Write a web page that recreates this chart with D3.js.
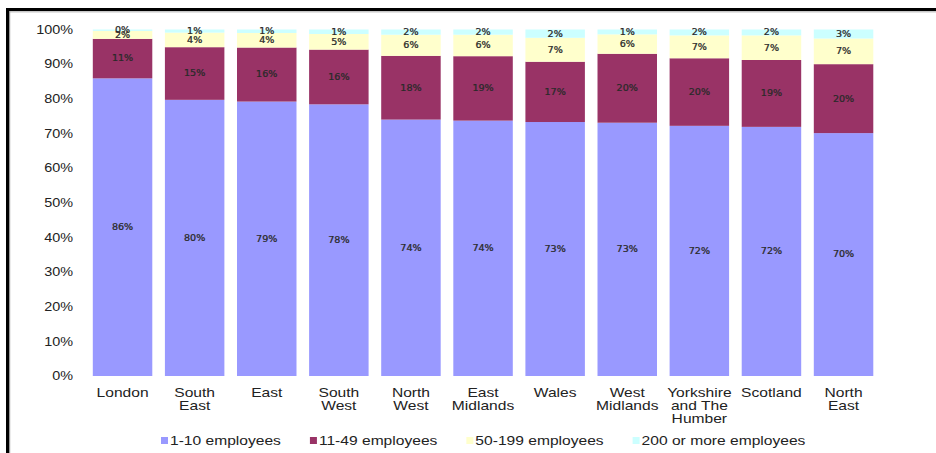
<!DOCTYPE html>
<html>
<head>
<meta charset="utf-8">
<script src="https://cdn.jsdelivr.net/npm/d3@7"></script>
<style>
  html, body { margin: 0; padding: 0; background: #fff; }
  svg { display: block; }
</style>
</head>
<body>
<svg id="chart" width="936" height="453"></svg>
<script>
// Business size mix by region (share of businesses)
const regions = [
  ["London"], ["South", "East"], ["East"], ["South", "West"], ["North", "West"],
  ["East", "Midlands"], ["Wales"], ["West", "Midlands"],
  ["Yorkshire", "and The", "Humber"], ["Scotland"], ["North", "East"]
];
const sizeBands = ["1-10 employees", "11-49 employees", "50-199 employees", "200 or more employees"];
const micro  = [85.9, 79.7, 79.2, 78.4, 74.0, 73.7, 73.3, 73.1, 72.2, 71.9, 70.1];
const small  = [11.4, 15.2, 15.6, 15.8, 18.4, 18.6, 17.4, 19.9, 19.5, 19.3, 19.9];
const medium = [2.3, 4.2, 4.2, 4.5, 6.1, 6.2, 6.9, 5.6, 6.6, 7.1, 7.4];
const large  = [0.4, 0.9, 1.0, 1.3, 1.5, 1.5, 2.4, 1.4, 1.7, 1.7, 2.6];
const yTicks = [0, 10, 20, 30, 40, 50, 60, 70, 80, 90, 100];

const colors = ["#9999ff", "#993366", "#ffffcc", "#ccffff"];
const series = [micro, small, medium, large];

const svg = d3.select("#chart");
svg.append("rect").attr("width", 936).attr("height", 453).attr("fill", "#fff");

// frame
svg.append("rect").attr("x", 6).attr("y", 8).attr("width", 940).attr("height", 3).attr("fill", "#000");
svg.append("rect").attr("x", 6).attr("y", 8).attr("width", 3).attr("height", 450).attr("fill", "#000");
svg.append("rect").attr("x", 9).attr("y", 11).attr("width", 930).attr("height", 1.5).attr("fill", "#c8c8c8");
svg.append("rect").attr("x", 9).attr("y", 11).attr("width", 1.2).attr("height", 445).attr("fill", "#9a9a9a");

const names = regions.map(r => r.join(" "));
const x = d3.scaleBand().domain(names).range([86.5, 879.6]).paddingInner(0.175).paddingOuter(0.0875);
const y = d3.scaleLinear().domain([0, 100]).range([376, 29.5]);

const rows = names.map((n, i) => {
  const o = { name: n };
  sizeBands.forEach((b, k) => o[b] = series[k][i]);
  return o;
});
const stacked = d3.stack().keys(sizeBands)(rows);

const g = svg.append("g");
stacked.forEach((layer, k) => {
  g.selectAll(null).data(layer).join("rect")
    .attr("x", d => x(d.data.name))
    .attr("width", x.bandwidth())
    .attr("y", d => y(d[1]))
    .attr("height", d => y(d[0]) - y(d[1]))
    .attr("fill", colors[k]);
});

// segment value labels
stacked.forEach((layer, k) => {
  g.selectAll(null).data(layer).join("text")
    .attr("transform", d => `translate(${x(d.data.name) + x.bandwidth() / 2},${(y(d[0]) + y(d[1])) / 2}) scale(1.2,1)`)
    .attr("text-anchor", "middle")
    .attr("dy", "0.36em")
    .attr("font-family", "DejaVu Sans, Verdana, sans-serif")
    .attr("font-size", 8)
    .attr("fill", "#2a2a2a")
    .attr("stroke", "#2a2a2a")
    .attr("stroke-width", 0.25)
    .text(d => Math.round(d[1] - d[0]) + "%");
});

// y axis labels
const axisFont = "Liberation Sans, Arial, sans-serif";
svg.append("g").selectAll("text").data(yTicks).join("text")
  .attr("transform", d => `translate(73,${y(d)}) scale(1.2,1)`)
  .attr("text-anchor", "end")
  .attr("dy", "0.36em")
  .attr("font-family", axisFont)
  .attr("font-size", 12)
  .attr("fill", "#222")
  .text(d => d + "%");

// category labels
const cat = svg.append("g").selectAll("g").data(regions).join("g")
  .attr("transform", (d, i) => `translate(${x(names[i]) + x.bandwidth() / 2},397)`);
cat.selectAll("text").data(d => d).join("text")
  .attr("transform", (d, j) => `translate(0,${j * 13}) scale(1.3,1)`)
  .attr("text-anchor", "middle")
  .attr("font-family", axisFont)
  .attr("font-size", 12)
  .attr("fill", "#222")
  .text(d => d);

// legend
const legend = svg.append("g");
let lx = 161;
sizeBands.forEach((b, k) => {
  legend.append("rect").attr("x", lx).attr("y", 437).attr("width", 7).attr("height", 7).attr("fill", colors[k]);
  const t = legend.append("text")
    .attr("transform", `translate(${lx + 9},445) scale(1.3,1)`)
    .attr("font-family", axisFont)
    .attr("font-size", 12)
    .attr("fill", "#222")
    .text(b);
  const w = t.node().getComputedTextLength() * 1.3;
  lx += 9 + w + 29;
});
</script>
</body>
</html>
